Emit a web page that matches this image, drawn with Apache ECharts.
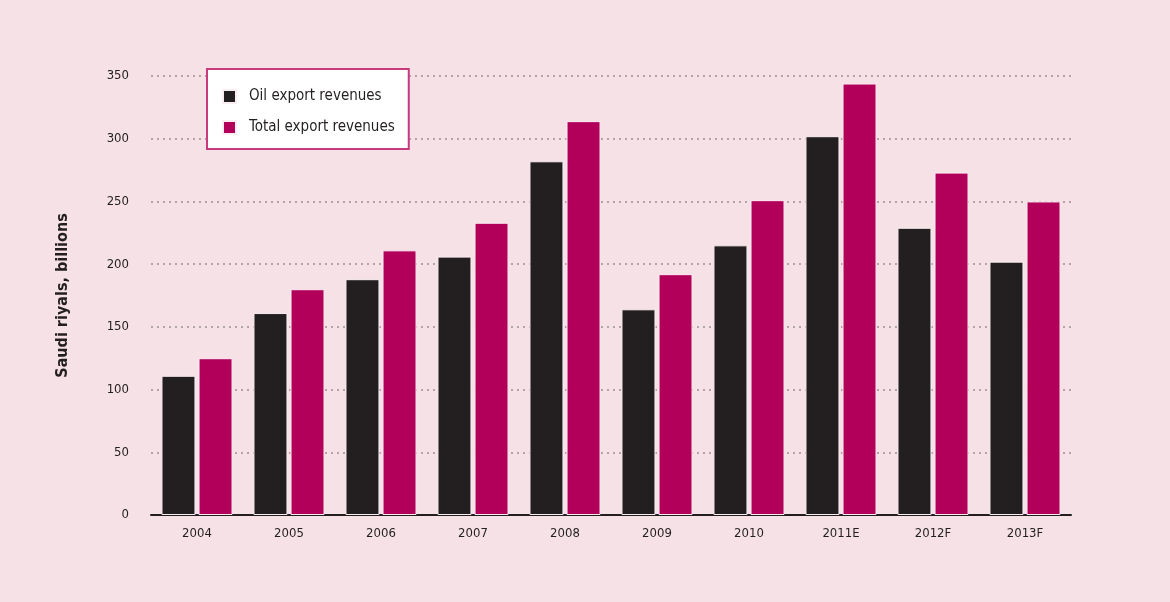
<!DOCTYPE html>
<html><head><meta charset="utf-8">
<script src="https://cdn.jsdelivr.net/npm/echarts@6/dist/echarts.min.js"></script>
<style>html,body{margin:0;padding:0;background:#f5e1e6;}#c{width:1170px;height:602px;}</style>
</head><body><div id="c"></div>
<script>
const categories = ['2004','2005','2006','2007','2008','2009','2010','2011E','2012F','2013F'];
const oilExport = [111, 161, 188, 206, 282, 164, 215, 302, 229, 202];
const totalExport = [125, 180, 211, 233, 314, 192, 251, 344, 273, 250];
const yTicks = [0, 50, 100, 150, 200, 250, 300, 350];
const FONT = '"Liberation Sans Narrow", "DejaVu Sans Condensed", sans-serif';
const chart = echarts.init(document.getElementById('c'), null, {renderer: 'canvas'});
chart.setOption({
  backgroundColor: '#f5e1e6',
  animation: false,
  textStyle: {fontFamily: FONT},
  grid: {left: 151, right: 99, top: 76, bottom: 87},
  legend: {
    orient: 'vertical', left: 207, top: 69,
    backgroundColor: '#ffffff', borderColor: '#c83a7e', borderWidth: 2,
    padding: [20, 14, 14, 15],
    itemGap: 16, itemWidth: 13, itemHeight: 13,
    icon: 'rect',
    textStyle: {fontFamily: FONT, fontSize: 15, color: '#231f20', padding: [0, 0, 0, 8]},
    data: ['Oil export revenues', 'Total export revenues']
  },
  xAxis: {
    type: 'category', data: categories,
    axisLine: {lineStyle: {color: '#231f20', width: 2}},
    axisTick: {show: false},
    axisLabel: {fontFamily: FONT, fontSize: 13, color: '#231f20', margin: 12}
  },
  yAxis: {
    type: 'value', min: 0, max: 350, interval: 50,
    name: 'Saudi riyals, billions', nameLocation: 'middle', nameGap: 80,
    nameTextStyle: {fontFamily: FONT, fontSize: 16, fontWeight: 'bold', color: '#231f20'},
    axisLine: {show: false}, axisTick: {show: false},
    axisLabel: {fontFamily: FONT, fontSize: 13, color: '#231f20', margin: 22,
      formatter: v => yTicks.includes(v) ? String(v) : ''},
    splitLine: {lineStyle: {color: '#9a9094', type: [2, 4], width: 1.5}}
  },
  series: [
    {name: 'Oil export revenues', type: 'bar', data: oilExport, barWidth: 34, barGap: '9%',
      itemStyle: {color: '#231f20', borderColor: '#fbeef2', borderWidth: 1}},
    {name: 'Total export revenues', type: 'bar', data: totalExport, barWidth: 34,
      itemStyle: {color: '#b2005a', borderColor: '#fbeef2', borderWidth: 1}}
  ]
});
</script></body></html>
